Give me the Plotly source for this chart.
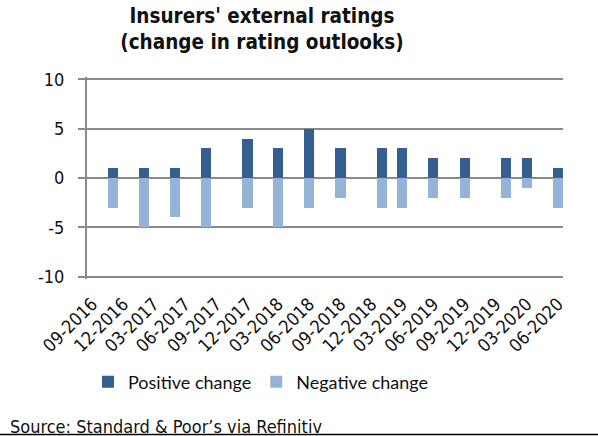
import pandas as pd
import plotly.graph_objects as go

# Quarterly rating-outlook changes, placed at the month of each observation
months = ["2016-11", "2017-02", "2017-05", "2017-08", "2017-12", "2018-03",
          "2018-06", "2018-09", "2019-01", "2019-03", "2019-06", "2019-09",
          "2020-01", "2020-03", "2020-06"]
positive = [1, 1, 1, 3, 4, 3, 5, 3, 3, 3, 2, 2, 2, 2, 1]
negative = [-3, -5, -4, -5, -3, -5, -3, -2, -3, -3, -2, -2, -2, -1, -3]

tick_labels = ["09-2016", "12-2016", "03-2017", "06-2017", "09-2017", "12-2017",
               "03-2018", "06-2018", "09-2018", "12-2018", "03-2019", "06-2019",
               "09-2019", "12-2019", "03-2020", "06-2020"]
y_ticks = [-10, -5, 0, 5, 10]
y_labels = ["-10", "-5", "0", "5", "10"]

W, H = 598, 436
ML, MR, MT, MB = 87, 35, 77, 157
PW, PH = W - ML - MR, H - MT - MB

DARK = "#365F91"
LIGHT = "#95B3D7"
GRID = "#8A8A8A"
TXT = "#111111"
FONT = "DejaVu Sans Condensed, DejaVu Sans, sans-serif"
LEG_FONT = "Lato, sans-serif"

label_months = pd.to_datetime(tick_labels, format="%m-%Y")
label_mid = label_months + pd.Timedelta(days=15)
x_start = label_months[0]
x_end = label_months[-1] + pd.DateOffset(months=1)
bar_width = 30 * 24 * 3600 * 1000  # one month, in ms

bar_x = pd.to_datetime(months, format="%Y-%m")

fig = go.Figure()
fig.add_trace(go.Bar(
    x=bar_x, y=positive, name="Positive change",
    marker=dict(color=DARK, line=dict(width=0)),
    xperiod="M1", xperiodalignment="middle", width=bar_width,
))
fig.add_trace(go.Bar(
    x=bar_x, y=negative, name="Negative change",
    marker=dict(color=LIGHT, line=dict(width=0)),
    xperiod="M1", xperiodalignment="middle", width=bar_width,
))

fig.update_layout(
    width=W, height=H,
    margin=dict(l=ML, r=MR, t=MT, b=MB, autoexpand=False),
    paper_bgcolor="white", plot_bgcolor="white",
    barmode="relative", bargap=0,
    font=dict(family=FONT, size=15, color=TXT),
    title=dict(
        text="Insurers' external ratings<br>(change in rating outlooks)",
        font=dict(family=FONT, size=20.5, color=TXT, weight="bold"),
        x=262 / W, xref="container", xanchor="center",
        y=1 - 22.5 / H, yref="container", yanchor="middle",
    ),
    xaxis=dict(
        type="date", range=[x_start, x_end],
        tickmode="array", tickvals=label_mid, ticktext=tick_labels,
        tickangle=-45, ticks="", showline=False, showgrid=False, zeroline=False,
        ticklabelstandoff=10,
        tickfont=dict(family=FONT, size=18, color=TXT),
        automargin=False,
    ),
    xaxis2=dict(
        type="date", range=[x_start, x_end], overlaying="x", matches="x",
        anchor="free", position=0.5, side="bottom",
        tickmode="array", tickvals=label_months[1:],
        ticks="outside", ticklen=5, tickwidth=2, tickcolor=GRID,
        showline=True, linecolor=GRID, linewidth=2,
        showgrid=False, zeroline=False, showticklabels=False,
    ),
    yaxis=dict(
        range=[-10.25, 10.25], tickmode="array", tickvals=y_ticks, ticktext=y_labels,
        showgrid=True, gridcolor=GRID, gridwidth=2,
        showline=True, linecolor=GRID, linewidth=2,
        ticks="outside", ticklen=7, tickwidth=2, tickcolor=GRID,
        zeroline=False, ticklabelstandoff=10,
        tickfont=dict(family=FONT, size=18, color=TXT),
        automargin=False,
    ),
    legend=dict(
        orientation="h", xref="container", yref="container",
        x=88 / W, xanchor="left", y=1 - 382 / H, yanchor="middle",
        font=dict(family=LEG_FONT, size=18, color=TXT),
        itemwidth=30, tracegroupgap=0,
    ),
    showlegend=True,
)

# Source note and the rule beneath it
fig.add_annotation(
    text="Source: Standard & Poor\u2019s via Refinitiv",
    xref="paper", yref="paper",
    x=(8 - ML) / PW, y=(MT + PH - 426) / PH,
    xanchor="left", yanchor="middle", showarrow=False,
    font=dict(family=FONT, size=18, color=TXT),
)
fig.add_shape(
    type="line", xref="paper", yref="paper",
    x0=-ML / PW, x1=(W - ML) / PW,
    y0=(MT + PH - 434.5) / PH, y1=(MT + PH - 434.5) / PH,
    line=dict(color="black", width=1.5),
)

fig.write_html("out.html")
